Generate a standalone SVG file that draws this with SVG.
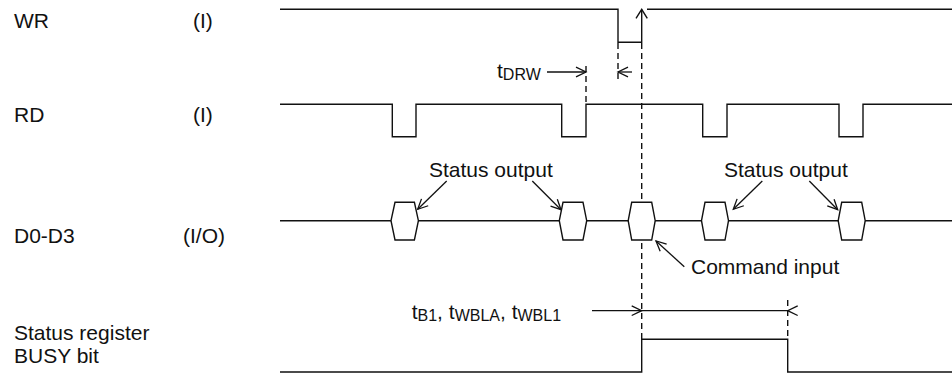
<svg xmlns="http://www.w3.org/2000/svg" width="952" height="376" viewBox="0 0 952 376">
<style>
  text { font-family: "Liberation Sans", Arial, sans-serif; font-size: 21px; fill: #111; }
  .sub { font-size: 16px; }
  .wave { fill: none; stroke: #111; stroke-width: 1.4; }
  .hex { fill: #fff; stroke: #111; stroke-width: 1.4; stroke-linejoin: miter; }
  .dash { fill: none; stroke: #111; stroke-width: 1.4; stroke-dasharray: 6 4; }
  .line { fill: none; stroke: #111; stroke-width: 1.3; }
  .arr { fill: none; stroke: #111; stroke-width: 1.3; marker-end: url(#open); }
</style>
<defs>
  <marker id="open" viewBox="-12 -6 14 12" refX="0" refY="0" markerWidth="14" markerHeight="12" markerUnits="userSpaceOnUse" orient="auto">
    <path d="M-10,-4.8 L0,0 L-10,4.8" fill="none" stroke="#111" stroke-width="1.3"/>
  </marker>
</defs>

<rect width="952" height="376" fill="#fff"/>

<g id="labels">
  <text x="14" y="28">WR</text>
  <text x="193" y="28">(I)</text>
  <text x="14" y="122">RD</text>
  <text x="193" y="122">(I)</text>
  <text x="14" y="243">D0-D3</text>
  <text x="183" y="243">(I/O)</text>
  <text x="14" y="340">Status register</text>
  <text x="14" y="363">BUSY bit</text>
</g>

<g id="connectors">
  <path class="dash" d="M618,43 V80"/>
  <path class="dash" d="M586,66 V104"/>
  <path class="dash" d="M641.7,43 V339"/>
  <path class="dash" d="M787.7,300 V339"/>
  <line class="arr" x1="547" y1="72" x2="586" y2="72"/>
  <line class="arr" x1="632" y1="72" x2="618" y2="72"/>
  <line class="arr" x1="592" y1="310.7" x2="641.7" y2="310.7"/>
  <line class="line" x1="641.7" y1="310.7" x2="787.7" y2="310.7"/>
  <path class="line" d="M797.7,305.9 L787.7,310.7 L797.7,315.5"/>
  <line class="arr" x1="446.7" y1="181" x2="417.7" y2="209.3"/>
  <line class="arr" x1="532.3" y1="181" x2="561" y2="209.7"/>
  <line class="arr" x1="762.3" y1="181" x2="733.3" y2="209.3"/>
  <line class="arr" x1="809.3" y1="181" x2="837.7" y2="209.7"/>
  <line class="arr" x1="684.3" y1="266.7" x2="656" y2="241"/>
</g>

<g id="wr">
  <path class="wave" d="M280,9.3 H618 V42.3 H641.7 V9.6"/>
  <path class="wave" d="M636,18.3 L641.7,9.3 L647.3,18.3"/>
  <path class="wave" d="M647,9.3 H952"/>
</g>

<g id="rd">
  <path class="wave" d="M280,104.3 H392.3 V136.7 H416 V104.3 H561.7 V136.7 H586 V104.3 H702.7 V136.7 H727 V104.3 H839 V136.7 H863 V104.3 H952"/>
</g>

<g id="d0d3">
  <path class="wave" d="M280,220.7 H952"/>
  <polygon class="hex" points="391,220.7 395,202.3 414.4,202.3 418.4,220.7 414.4,240 395,240"/>
  <polygon class="hex" points="559.3,220.7 563,202.3 583,202.3 586.7,220.7 583,240 563,240"/>
  <polygon class="hex" points="628.2,220.7 631.7,202.3 651.7,202.3 655.2,220.7 651.7,240 631.7,240"/>
  <polygon class="hex" points="701.5,220.7 705,202.3 725,202.3 728.5,220.7 725,240 705,240"/>
  <polygon class="hex" points="838.2,220.7 841.7,202.3 861.7,202.3 865.2,220.7 861.7,240 841.7,240"/>
  <text x="429" y="177">Status output</text>
  <text x="724" y="177">Status output</text>
  <text x="691" y="274">Command input</text>
</g>

<g id="busy">
  <path class="wave" d="M280,372 H641.7 V339.3 H787.7 V372 H952"/>
</g>

<g id="timing-labels">
  <text x="497" y="78">t<tspan class="sub" dy="2">DRW</tspan></text>
  <text x="411.7" y="318.5">t<tspan class="sub" dy="2">B1</tspan><tspan dy="-2">, t</tspan><tspan class="sub" dy="2">WBLA</tspan><tspan dy="-2">, t</tspan><tspan class="sub" dy="2">WBL1</tspan></text>
</g>
</svg>
